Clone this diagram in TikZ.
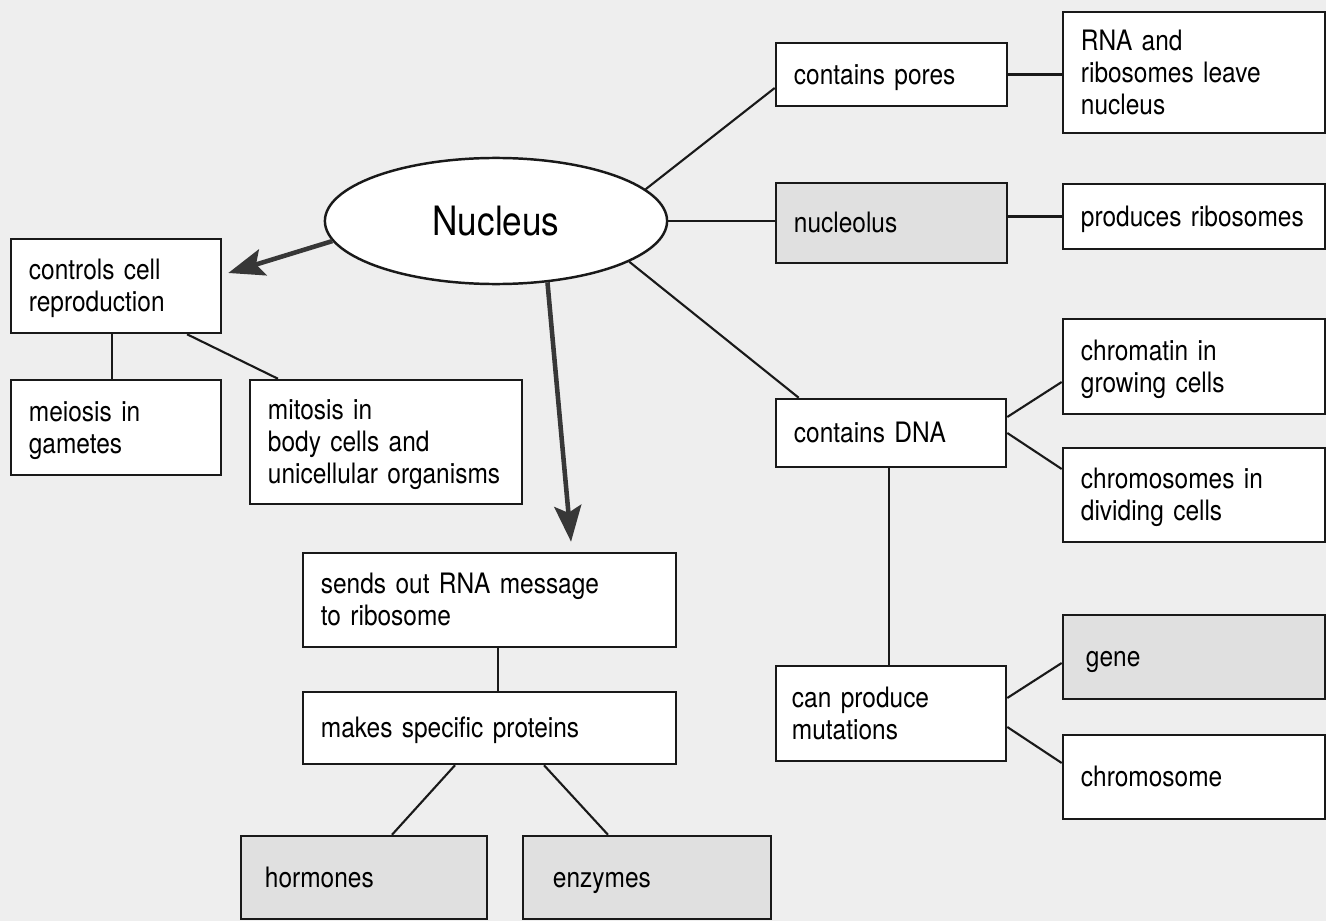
\documentclass[tikz,border=0pt]{standalone}
\usepackage{fontspec}
\setmainfont{TeX Gyre Heros}[FakeStretch=0.87]
\usetikzlibrary{arrows.meta,shapes.geometric}
\definecolor{bg}{RGB}{238,238,238}
\definecolor{gbox}{RGB}{224,224,224}
\definecolor{ink}{RGB}{25,25,25}
\definecolor{arrowgray}{RGB}{55,55,55}
\newcommand{\topstrut}{\rule{0pt}{7.37pt}}
\newcommand{\botstrut}{\rule[-1.73pt]{0pt}{1.73pt}}
\begin{document}
\begin{tikzpicture}[x=0.01cm,y=-0.01cm,
  box/.style={draw=ink, line width=0.7pt, fill=white, align=left,
    inner xsep=0.18cm, inner ysep=0pt, text=black,
    font=\fontsize{8}{9.1}\selectfont,
    execute at begin node=\topstrut, execute at end node=\botstrut},
  graybox/.style={box, fill=gbox},
  link/.style={draw=ink, line width=0.6pt},
  arr/.style={draw=arrowgray, line width=1.3pt,
    -{Stealth[length=0.36cm, width=0.27cm, inset=0.07cm]}}
]
\useasboundingbox (0,0) rectangle (1326,921);
\fill[bg] (0,0) rectangle (1326,921);

% central ellipse
\node[ellipse, draw=ink, line width=0.7pt, fill=white, minimum width=3.42cm,
  minimum height=1.26cm, inner sep=0pt,
  font=\fontsize{11.5}{13}\selectfont] (nuc) at (496,221) {Nucleus};

% right column 1
\node[box, text width=1.95cm, minimum height=0.63cm] (pores) at (891.5,74.5) {contains pores};
\node[graybox, text width=1.95cm, minimum height=0.80cm] (nucleolus) at (891.5,223) {nucleolus};
\node[box, text width=1.94cm, minimum height=0.68cm] (dna) at (891,433) {contains DNA};
\node[box, inner xsep=0.16cm, text width=1.98cm, minimum height=0.95cm] (mut) at (891,713.5) {can produce\\mutations};

% right column 2
\node[box, text width=2.26cm, minimum height=1.21cm] (rna) at (1194,72.5) {RNA and\\ribosomes leave\\nucleus};
\node[box, text width=2.26cm, minimum height=0.65cm] (prod) at (1194,216.5) {produces ribosomes};
\node[box, text width=2.26cm, minimum height=0.95cm] (chromatin) at (1194,366.5) {chromatin in\\growing cells};
\node[box, text width=2.26cm, minimum height=0.94cm] (chromosomes) at (1194,495) {chromosomes in\\dividing cells};
\node[graybox, inner xsep=0.23cm, text width=2.16cm, minimum height=0.84cm] (gene) at (1194,657) {gene};
\node[box, text width=2.26cm, minimum height=0.84cm] (chromosome) at (1194,777) {chromosome};

% left side
\node[box, text width=1.74cm, minimum height=0.94cm] (controls) at (116,286) {controls cell\\reproduction};
\node[box, text width=1.74cm, minimum height=0.95cm] (meiosis) at (116,427.5) {meiosis in\\gametes};
\node[box, text width=2.36cm, minimum height=1.24cm] (mitosis) at (386,442) {mitosis in\\body cells and\\unicellular organisms};

% middle bottom
\node[box, text width=3.37cm, minimum height=0.94cm] (sends) at (489.5,600) {sends out RNA message\\to ribosome};
\node[box, text width=3.37cm, minimum height=0.72cm] (makes) at (489.5,728) {makes specific proteins};
\node[graybox, inner xsep=0.24cm, text width=1.98cm, minimum height=0.83cm] (horm) at (364,877.5) {hormones};
\node[graybox, inner xsep=0.30cm, text width=1.88cm, minimum height=0.83cm] (enz) at (647,877.5) {enzymes};

% connectors from nucleus
\draw[link] (nuc.12) -- ([yshift=-0.135cm]pores.west);
\draw[link] (nuc.east) -- (nuc.east -| nucleolus.west);
\draw[link] (nuc.-17) -- ([xshift=0.24cm]dna.north west);
\draw[arr] (nuc.187.3) -- ([shift={(0.06cm,0.13cm)}]controls.east);
\draw[arr] (nuc.-50.6) -- ([shift={(0.815cm,0.10cm)}]sends.north);

% right side connectors
\draw[link] (pores.east) -- (pores.east -| rna.west);
\draw[link] (prod.west -| nucleolus.east) -- (prod.west);
\draw[link] ([yshift=0.16cm]dna.east) -- ([yshift=-0.155cm]chromatin.west);
\draw[link] (dna.east) -- ([yshift=0.26cm]chromosomes.west);
\draw[link] ([xshift=-0.02cm]dna.south) -- ([xshift=-0.02cm]dna.south |- mut.north);
\draw[link] ([yshift=0.155cm]mut.east) -- ([yshift=-0.06cm]gene.west);
\draw[link] ([yshift=-0.135cm]mut.east) -- ([yshift=0.14cm]chromosome.west);

% left side connectors
\draw[link] ([xshift=-0.04cm]controls.south) -- ([xshift=-0.04cm]meiosis.north);
\draw[link] ([xshift=0.71cm]controls.south) -- ([xshift=-1.08cm]mitosis.north);

% middle connectors
\draw[link] ([xshift=0.085cm]sends.south) -- ([xshift=0.085cm]makes.north);
\draw[link] ([xshift=-0.345cm]makes.south) -- ([xshift=0.28cm]horm.north);
\draw[link] ([xshift=0.545cm]makes.south) -- ([xshift=-0.39cm]enz.north);
\end{tikzpicture}
\end{document}
